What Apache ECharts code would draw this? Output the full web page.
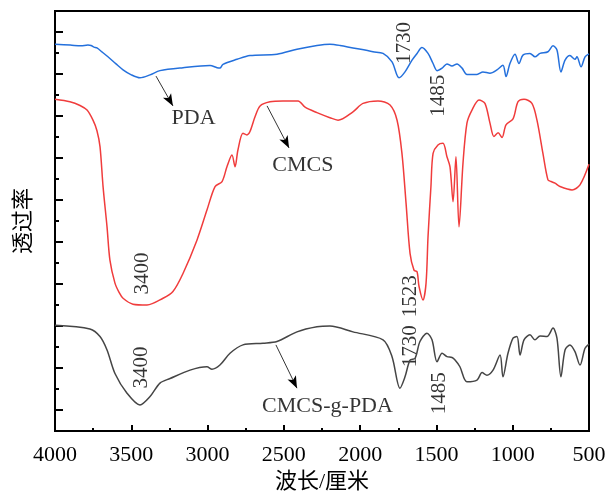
<!DOCTYPE html>
<html>
<head>
<meta charset="utf-8">
<script src="https://cdn.jsdelivr.net/npm/echarts@6/dist/echarts.min.js"></script>
<style>html,body{margin:0;padding:0;background:#fff}#c{width:607px;height:495px}</style>
</head>
<body>
<div id="c"></div>
<script>
// ---- data (wavenumber cm-1, relative transmittance) ----
const pdaWave = [4000,3900,3830,3784,3764,3744,3725,3690,3653,3600,3554,3500,3443,3377,3312,3161,2984,2938,2919,2899,2807,2722,2545,2414,2283,2198,2132,1916,1850,1791,1745,1706,1660,1627,1595,1555,1522,1496,1463,1431,1398,1365,1332,1300,1234,1195,1149,1103,1064,1044,1018,985,959,933,887,854,821,769,736,710,684,657,625,592,579,552,526,500];
const pdaT    = [9.21,9.19,9.17,9.19,9.18,9.14,9.12,9.02,8.91,8.74,8.60,8.48,8.41,8.48,8.58,8.65,8.70,8.65,8.64,8.73,8.85,8.94,8.97,9.09,9.18,9.21,9.18,9.03,8.99,8.79,8.41,8.55,8.83,8.99,9.13,8.99,8.75,8.58,8.64,8.74,8.69,8.74,8.64,8.49,8.49,8.55,8.52,8.60,8.71,8.44,8.75,8.97,8.75,8.95,8.99,8.91,8.99,9.03,9.17,9.07,8.55,8.83,8.94,8.85,8.91,8.67,8.91,8.98];

const cmcsWave = [4000,3902,3836,3790,3751,3725,3705,3685,3659,3640,3607,3580,3554,3489,3397,3292,3227,3161,3069,3004,2951,2905,2873,2840,2820,2801,2768,2742,2722,2689,2656,2591,2506,2407,2361,2283,2198,2145,2047,1981,1883,1804,1758,1726,1699,1673,1647,1627,1614,1588,1568,1555,1536,1522,1490,1457,1431,1411,1391,1372,1352,1326,1300,1267,1221,1182,1149,1123,1096,1070,1044,998,965,926,874,841,802,769,749,723,690,611,559,500];
const cmcsT    = [7.90,7.84,7.75,7.64,7.40,7.15,6.77,5.82,4.86,4.07,3.52,3.30,3.16,3.02,3.00,3.16,3.32,3.75,4.55,5.26,5.82,5.94,6.29,6.57,6.29,6.69,7.09,7.05,7.13,7.48,7.74,7.84,7.86,7.86,7.71,7.58,7.46,7.40,7.60,7.80,7.86,7.76,7.40,6.61,5.42,4.23,3.83,3.79,3.44,3.12,3.52,4.63,5.82,6.61,6.81,6.85,6.53,6.29,5.46,6.53,4.86,6.37,7.33,7.64,7.88,7.80,7.33,7.01,7.10,6.99,7.29,7.43,7.84,7.90,7.80,7.40,6.61,5.98,5.94,5.90,5.82,5.74,5.86,6.35];

const gpdaWave = [4000,3771,3705,3659,3607,3528,3443,3377,3312,3246,3115,3004,2971,2919,2853,2768,2637,2545,2414,2283,2198,2047,1850,1791,1739,1706,1673,1640,1608,1562,1529,1496,1463,1431,1398,1378,1346,1300,1234,1201,1169,1129,1083,1064,1031,998,972,952,926,887,854,821,775,736,710,684,657,625,592,559,526,500];
const gpdaT    = [2.52,2.43,2.25,1.93,1.37,0.90,0.62,0.82,1.14,1.25,1.45,1.53,1.47,1.57,1.85,2.05,2.09,2.13,2.36,2.48,2.50,2.36,2.17,1.77,1.02,1.29,1.69,1.73,2.13,2.33,2.17,1.65,1.85,1.77,1.75,1.69,1.53,1.17,1.21,1.39,1.33,1.45,1.81,1.29,1.85,2.21,2.25,1.81,2.17,2.29,2.17,2.26,2.25,2.45,2.21,1.29,1.93,2.05,1.89,1.57,1.97,2.07];

const xTicks = [4000,3500,3000,2500,2000,1500,1000,500];

// annotation labels: [wavenumber, T, text]
const peakLabels = [
  [1709, 9.24, '1730'], [1486, 7.98, '1485'],
  [3427, 3.75, '3400'], [1673, 3.21, '1523'],
  [3433, 1.51, '3400'], [1673, 2.02, '1730'], [1477, 0.90, '1485']
];
const nameLabels = [[3092, 7.44, 'PDA'], [2375, 6.33, 'CMCS'], [2214, 0.60, 'CMCS-g-PDA']];
// arrows: [fromWave, fromT, toWave, toT]
const arrows = [[3338, 8.45, 3227, 7.74], [2610, 7.74, 2466, 6.74], [2552, 2.05, 2414, 1.02]];

const zip = (w, t) => w.map((v, i) => [v, t[i]]);
const serif = "'Liberation Serif','Times New Roman',serif";

const chart = echarts.init(document.getElementById('c'), null, {renderer: 'canvas'});
chart.setOption({
  animation: false,
  grid: {left: 55, right: 18, top: 11, bottom: 64, show: true, borderColor: '#000', borderWidth: 2,
         containLabel: false, outerBoundsMode: 'none'},
  xAxis: {
    type: 'value', inverse: true, min: 500, max: 4000, interval: 500,
    name: '波长/厘米', nameLocation: 'middle', nameGap: 40,
    nameTextStyle: {fontSize: 22, color: '#000', fontFamily: "'Liberation Serif','Noto Sans CJK SC',serif"},
    axisLine: {show: true, onZero: false, lineStyle: {color: '#000', width: 2}},
    axisTick: {show: true, inside: true, length: 6, lineStyle: {color: '#000', width: 2}},
    minorTick: {show: true, splitNumber: 2, length: 3, lineStyle: {color: '#000', width: 2}},
    axisLabel: {fontSize: 22, color: '#000', fontFamily: serif, margin: 13,
      formatter: v => String(v)},
    splitLine: {show: false}
  },
  yAxis: {
    type: 'value', min: 0, max: 10, interval: 1,
    name: '透过率', nameLocation: 'middle', nameRotate: 90, nameGap: 22,
    nameTextStyle: {fontSize: 22, color: '#000', fontFamily: "'Noto Sans CJK SC',serif"},
    axisLine: {show: true, onZero: false, lineStyle: {color: '#000', width: 2}},
    axisTick: {show: true, inside: true, length: 4, lineStyle: {color: '#000', width: 2}},
    minorTick: {show: true, splitNumber: 2, length: 8, lineStyle: {color: '#000', width: 2}},
    axisLabel: {show: false},
    splitLine: {show: false}
  },
  series: [
    {type: 'line', name: 'PDA', data: zip(pdaWave, pdaT), showSymbol: false, symbol: 'none',
     smooth: 0.3, lineStyle: {color: '#2470dc', width: 1.5}},
    {type: 'line', name: 'CMCS', data: zip(cmcsWave, cmcsT), showSymbol: false, symbol: 'none',
     smooth: 0.3, lineStyle: {color: '#f03c3c', width: 1.5}},
    {type: 'line', name: 'CMCS-g-PDA', data: zip(gpdaWave, gpdaT), showSymbol: false, symbol: 'none',
     smooth: 0.3, lineStyle: {color: '#454545', width: 1.5},
     markLine: {
       silent: true, animation: false, symbol: ['none', 'arrow'], symbolSize: [7, 12],
       label: {show: false},
       lineStyle: {color: '#000', width: 0.8, type: 'solid'},
       data: arrows.map(a => [{coord: [a[0], a[1]]}, {coord: [a[2], a[3]]}])
     }},
    {type: 'scatter', data: peakLabels, symbolSize: 0, silent: true,
     label: {show: true, position: 'inside', rotate: 90, formatter: p => p.data[2],
       fontSize: 21, color: '#000', fontFamily: serif}},
    {type: 'scatter', data: nameLabels, symbolSize: 0, silent: true,
     label: {show: true, position: 'inside', formatter: p => p.data[2],
       fontSize: 22, color: '#000', fontFamily: serif}}
  ]
});
</script>
</body>
</html>
